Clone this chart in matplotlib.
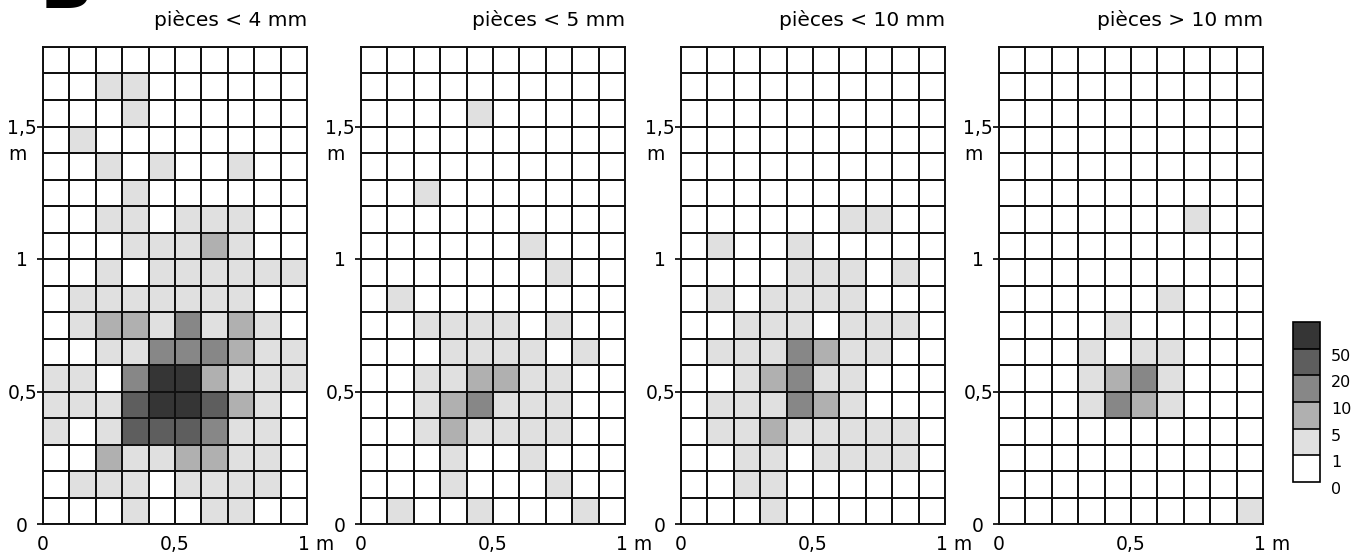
import numpy as np
import matplotlib
matplotlib.use('Agg')
from matplotlib import pyplot as plt
from matplotlib.colors import ListedColormap, BoundaryNorm
from matplotlib.cm import ScalarMappable
from matplotlib.transforms import ScaledTranslation

titles = ['pièces < 4 mm', 'pièces < 5 mm', 'pièces < 10 mm', 'pièces > 10 mm']

# class of each 10x10 cm square, top row (1,7-1,8 m) first
# 0: 0, 1: 1-5, 2: 5-10, 3: 10-20, 4: 20-50, 5: >50
lt4 = ['0000000000', '0011000000', '0001000000', '0100000000', '0010100100',
       '0001000000', '0011011100', '0001112100', '0010111111', '0111111100',
       '0122131210', '0011333211', '1103552111', '1114554210', '1014443110',
       '0021122110', '0111011110', '0001001100']
lt5 = ['0000000000', '0000000000', '0000100000', '0000000000', '0000000000',
       '0010000000', '0000000000', '0000001000', '0000000100', '0100000000',
       '0011110100', '0001111010', '0011221100', '0012311100', '0012111100',
       '0001001000', '0001000100', '0100100010']
lt10 = ['0000000000', '0000000000', '0000000000', '0000000000', '0000000000',
        '0000000000', '0000001100', '0100100000', '0000111010', '0101111000',
        '0011101110', '0111321100', '0012311000', '0111321000', '0112111110',
        '0011011110', '0011000000', '0001000000']
gt10 = ['0000000000', '0000000000', '0000000000', '0000000000', '0000000000',
        '0000000000', '0000000100', '0000000000', '0000000000', '0000001000',
        '0000100000', '0001011000', '0001231000', '0001321000', '0000000000',
        '0000000000', '0000000000', '0000000001']

class_bounds = [0, 1, 5, 10, 20, 50, 100]
class_labels = ['0', '1', '5', '10', '20', '50']
colors = ['#ffffff', '#e0e0e0', '#b0b0b0', '#878787', '#5e5e5e', '#353535']

xticks = [0, 0.5, 1]
xlabels = ['0', '0,5', '1 m']
yticks = [0, 0.5, 1, 1.5]
ylabels = ['0', '0,5', '1', '1,5']

cmap = ListedColormap(colors)
norm = BoundaryNorm(np.arange(-0.5, 6, 1), 6)

fig = plt.figure(figsize=(13.7, 5.55), dpi=100)
plt.rcParams['font.family'] = 'DejaVu Sans'

lefts = [43, 361, 681, 999]
grids = [lt4, lt5, lt10, gt10]

for left, grid, title in zip(lefts, grids, titles):
    ax = fig.add_axes([left / 1370, 31 / 555, 264 / 1370, 477 / 555])
    z = np.array([[int(c) for c in row] for row in grid])[::-1]
    xe = np.linspace(0, 1, z.shape[1] + 1)
    ye = np.linspace(0, 0.1 * z.shape[0], z.shape[0] + 1)
    ax.pcolormesh(xe, ye, z, cmap=cmap, norm=norm, edgecolors='#111111', linewidth=1.4)
    ax.set_xlim(0, 1)
    ax.set_ylim(0, 1.8)
    for s in ax.spines.values():
        s.set_linewidth(1.4)
        s.set_color('#111111')
    ax.set_xticks(xticks)
    ax.set_xticklabels(xlabels)
    ax.set_yticks(yticks)
    ax.set_yticklabels(ylabels, ha='center')
    ax.tick_params(axis='x', length=0, pad=8, labelsize=13.5)
    ax.tick_params(axis='y', length=4, width=1.2, pad=11, labelsize=13.5)
    lab = ax.get_xticklabels()[-1]
    lab.set_ha('left')
    lab.set_transform(lab.get_transform() + ScaledTranslation(-0.09, 0, fig.dpi_scale_trans))
    ax.annotate('m', xy=(0, 1.5), xycoords=('axes fraction', 'data'),
                xytext=(-25, -20), textcoords='offset points',
                ha='left', va='center', fontsize=13.5)
    ax.set_title(title, loc='right', fontsize=14.5, pad=15)

cax = fig.add_axes([1293 / 1370, 73 / 555, 27 / 1370, 160 / 555])
sm = ScalarMappable(norm=BoundaryNorm(class_bounds, 6), cmap=cmap)
cb = fig.colorbar(sm, cax=cax, ticks=class_bounds[:-1], spacing='uniform', drawedges=True)
cb.set_ticklabels(class_labels)
cb.minorticks_off()
cb.outline.set_linewidth(1.2)
cb.dividers.set_linewidth(1.2)
cax.tick_params(length=0, pad=8, labelsize=11.5)
for t in cax.get_yticklabels():
    t.set_va('top')

fig.text(40 / 1370, 1 - 8 / 555, 'B', fontsize=50, fontweight='bold', va='baseline', ha='left')

fig.savefig('out.png', dpi=100)
